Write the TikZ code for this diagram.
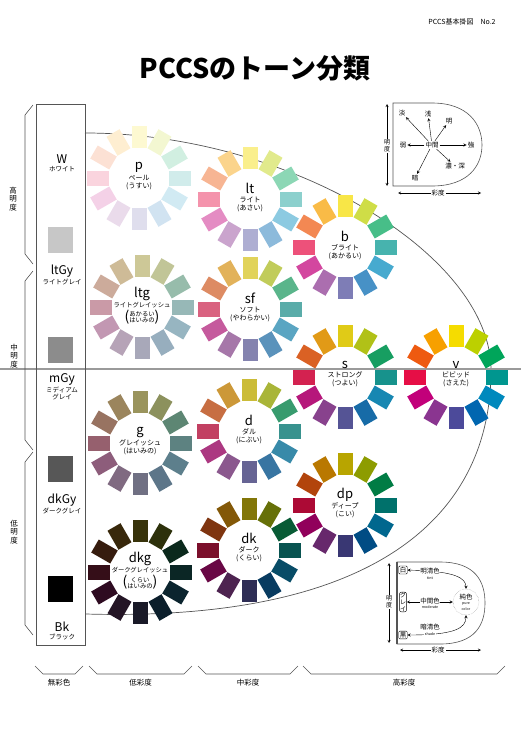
\documentclass[tikz,border=0pt]{standalone}
\usepackage{fontspec}
\setmainfont{Noto Sans CJK JP}

% twelve hues, yellow on top, going clockwise
\definecolor{h0}{HTML}{F5DC00}
\definecolor{h1}{HTML}{BCD000}
\definecolor{h2}{HTML}{00A55A}
\definecolor{h3}{HTML}{00968F}
\definecolor{h4}{HTML}{0089BD}
\definecolor{h5}{HTML}{0066B0}
\definecolor{h6}{HTML}{4C4A9A}
\definecolor{h7}{HTML}{8A3590}
\definecolor{h8}{HTML}{C2007A}
\definecolor{h9}{HTML}{E60E46}
\definecolor{h10}{HTML}{EE5A10}
\definecolor{h11}{HTML}{F7A000}
% what the hue is mixed with for each tone
\definecolor{sbase}{HTML}{7F7F7F}
\definecolor{sfbase}{HTML}{C8C8C8}
\definecolor{dbase}{HTML}{8C8C8C}
\definecolor{gbase}{HTML}{7C7C7C}
\definecolor{ltgbase}{HTML}{C2C2C2}
\definecolor{dkbase}{HTML}{101010}
\definecolor{dkgbase}{HTML}{0E0E0E}
\definecolor{framegray}{HTML}{555555}
\definecolor{midgray}{HTML}{9A9A9A}

\newcommand{\tonename}[1]{{\fontsize{13}{13}\selectfont #1}}
\newcommand{\grayname}[1]{{\fontsize{12}{12}\selectfont #1}}
\newcommand{\twoline}[2]{\raisebox{-0.5ex}{\fontsize{14}{14}\selectfont(}%
    \begin{tabular}{@{}c@{}}#1\\[-1pt]#2\end{tabular}%
    \raisebox{-0.5ex}{\fontsize{14}{14}\selectfont)}}

\begin{document}
\begin{tikzpicture}[x=1pt,y=-1pt,>=stealth,font=\fontsize{7}{8}\selectfont,
    tonelab/.style={align=center,inner sep=0pt},
    graylab/.style={align=center,inner sep=0pt,font=\fontsize{6.5}{7.5}\selectfont},
    tate/.style={align=center,inner sep=0.6pt,font=\fontsize{7.5}{8.6}\selectfont},
    bracket/.style={draw=framegray,line width=0.6pt},
    inlab/.style={inner sep=1pt,font=\fontsize{6.5}{7}\selectfont},
    tiny/.style={inner sep=0pt,font=\fontsize{3.6}{4}\selectfont}]
    \useasboundingbox (0,0) rectangle (521,736);

    \node (header) at (462,22) {PCCS基本掛図\quad No.2};
    \node[font=\fontsize{27}{30}\selectfont\bfseries] (title) at (255,68)
        {PCCSのトーン分類};

    % chroma boundary and the middle lightness line
    \draw[framegray,line width=0.7pt] (85,133) .. controls (290,133) and (491,255) ..
        (491,370) .. controls (491,520) and (370,622) .. (86,614);
    \draw[midgray,line width=1.3pt] (0,369) -- (521,369);

    % tone wheels: x/y/percent of hue/mixed with
    \foreach \cx/\cy/\pc/\bs in {139/178/18/white, 250/199/45/white,
        345/247/72/white, 142/307/22/ltgbase, 250/309/55/sfbase,
        345/377/82/sbase, 456/377/100/white, 140/443/25/gbase,
        249/431/60/dbase, 345/505/75/black, 249/550/50/dkbase,
        140/572/18/dkgbase}
    {
        \begin{scope}[shift={(\cx,\cy)}]
            \foreach \i in {0,...,11}
                \fill[fill=h\i!\pc!\bs,rotate=-30*\i] (-7.5,-30) rectangle (7.5,-52);
        \end{scope}
    }

    \node[tonelab] (p) at (139,176) {\tonename{p}\\[1pt]ペール\\(うすい)};
    \node[tonelab] (lt) at (250,198) {\tonename{lt}\\[1pt]ライト\\(あさい)};
    \node[tonelab] (b) at (345,246) {\tonename{b}\\[1pt]ブライト\\(あかるい)};
    \node[tonelab,font=\fontsize{6.3}{7}\selectfont] (ltg) at (142,306)
        {\tonename{ltg}\\[1pt]ライトグレイッシュ\\[1pt]\twoline{あかるい}{はいみの}};
    \node[tonelab] (sf) at (250,307) {\tonename{sf}\\[1pt]ソフト\\(やわらかい)};
    \node[tonelab] (s) at (345,374) {\tonename{s}\\[1pt]ストロング\\(つよい)};
    \node[tonelab] (v) at (456,374) {\tonename{v}\\[1pt]ビビッド\\(さえた)};
    \node[tonelab] (g) at (140,441) {\tonename{g}\\[1pt]グレイッシュ\\(はいみの)};
    \node[tonelab] (d) at (249,430) {\tonename{d}\\[1pt]ダル\\(にぶい)};
    \node[tonelab] (dp) at (345,503) {\tonename{dp}\\[1pt]ディープ\\(こい)};
    \node[tonelab] (dk) at (249,548) {\tonename{dk}\\[1pt]ダーク\\(くらい)};
    \node[tonelab,font=\fontsize{6.3}{7}\selectfont] (dkg) at (140,571)
        {\tonename{dkg}\\[1pt]ダークグレイッシュ\\[1pt]\twoline{くらい}{はいみの}};

    % achromatic column
    \draw[framegray,line width=0.6pt] (36,104) rectangle (85,645);
    \fill[black!22] (48,227) rectangle (73,253);
    \fill[black!45] (48,337) rectangle (73,363);
    \fill[black!66] (48,456) rectangle (73,482);
    \fill[black] (48,576) rectangle (73,602);
    \node[graylab] (W) at (62,163) {\grayname{W}\\ホワイト};
    \node[graylab] (ltGy) at (62,275) {\grayname{ltGy}\\ライトグレイ};
    \node[graylab] (mGy) at (62,387) {\grayname{mGy}\\ミディアム\\グレイ};
    \node[graylab] (dkGy) at (62,504) {\grayname{dkGy}\\ダークグレイ};
    \node[graylab] (Bk) at (62,631) {\grayname{Bk}\\ブラック};

    % lightness brackets
    \draw[bracket] (33,105) -- (25,115) -- (25,254) -- (33,264);
    \draw[bracket] (33,271) -- (25,281) -- (25,440) -- (33,450);
    \draw[bracket] (33,452) -- (25,462) -- (25,625) -- (33,635);
    \node[tate] (hi) at (13,199) {高\\明\\度};
    \node[tate] (mid) at (14,356) {中\\明\\度};
    \node[tate] (lo) at (14,532) {低\\明\\度};

    % chroma brackets
    \foreach \xa/\xb/\lab in {35/83/無彩色, 89/192/低彩度,
        198/298/中彩度, 303/505/高彩度}
    {
        \draw[bracket] (\xa,666) -- (\xa+8,674) -- (\xb-8,674) -- (\xb,666);
        \node[font=\fontsize{7.5}{8}\selectfont] at ({(\xa+\xb)/2},683) {\lab};
    }

    % key, top right
    \draw[framegray,line width=0.6pt] (432,103) .. controls (468,103) and (482,124) ..
        (482,145) .. controls (482,166) and (468,186) .. (432,186)
        -- (393,186) -- (393,103) -- cycle;
    \coordinate (ka) at (387,104);
    \coordinate (kb) at (387,186);
    \coordinate (kc) at (398,193);
    \coordinate (kd) at (481,193);
    \draw[<->,line width=0.4pt] (ka) -- (kb);
    \draw[<->,line width=0.4pt] (kc) -- (kd);
    \node[inlab] (chukan) at (432,145) {中間};
    \node[inlab] (tan) at (402,113) {淡};
    \node[inlab] (asa) at (428,114) {浅};
    \node[inlab] (mei) at (449,121) {明};
    \node[inlab] (jaku) at (403,145) {弱};
    \node[inlab] (kyo) at (471,145) {強};
    \node[inlab] (noshin) at (455,166) {濃・深};
    \node[inlab] (an) at (415,178) {暗};
    \foreach \n in {tan,asa,mei,jaku,kyo,noshin,an}
        \draw[->,line width=0.4pt] (chukan) -- (\n);
    \node[tate,fill=white,font=\fontsize{6}{7}\selectfont] (kmeido) at (387,146) {明\\度};
    \node[inlab,fill=white] (ksaido) at (438,193) {彩度};

    % key, bottom right
    \draw[framegray,line width=0.6pt] (440,562) .. controls (476,562) and (485,582) ..
        (485,603) .. controls (485,624) and (476,644) .. (440,644)
        -- (397,644) -- (397,562) -- cycle;
    \draw[framegray,line width=1.2pt] (397,562) -- (397,644);
    \coordinate (la) at (389,563);
    \coordinate (lb) at (389,643);
    \coordinate (lc) at (400,650);
    \coordinate (ld) at (481,650);
    \draw[<->,line width=0.4pt] (la) -- (lb);
    \draw[<->,line width=0.4pt] (lc) -- (ld);
    \node[inlab,draw,fill=white,rounded corners=1pt] (shiro) at (403,570) {白};
    \node[tate,draw,fill=white,rounded corners=2pt,font=\fontsize{6}{6.6}\selectfont]
        (gurei) at (403,602) {グ\\レ\\イ};
    \node[inlab,draw,fill=white,rounded corners=1pt] (kuro) at (403,635) {黒};
    \node[circle,draw=black!45,densely dotted,inner sep=0pt,minimum size=26pt,
        align=center,font=\fontsize{6.5}{5}\selectfont] (jun) at (466,602)
        {純色\\[0.5pt]{\fontsize{3.6}{4}\selectfont pure}\\[0.3pt]{\fontsize{3.6}{4}\selectfont color}};
    \draw[<->,line width=0.4pt] (shiro) .. controls (455,571) and (466,578) .. (jun);
    \draw[<->,line width=0.4pt] (gurei) -- (jun);
    \draw[<->,line width=0.4pt] (kuro) .. controls (455,635) and (466,628) .. (jun);
    \node[inlab,fill=white,inner sep=0.5pt] (meisei) at (430,571) {明清色};
    \node[tiny] (tint) at (430,578) {tint};
    \node[inlab,fill=white,inner sep=0.5pt] (chukanshoku) at (430,601) {中間色};
    \node[tiny] (moderate) at (430,607) {moderate};
    \node[inlab,fill=white,inner sep=0.5pt] (ansei) at (430,627) {暗清色};
    \node[tiny,fill=white,inner sep=0.5pt] (shade) at (430,634) {shade};
    \node[tate,fill=white,font=\fontsize{6}{7}\selectfont] (lmeido) at (389,602) {明\\度};
    \node[inlab,fill=white] (lsaido) at (438,650) {彩度};
\end{tikzpicture}
\end{document}
